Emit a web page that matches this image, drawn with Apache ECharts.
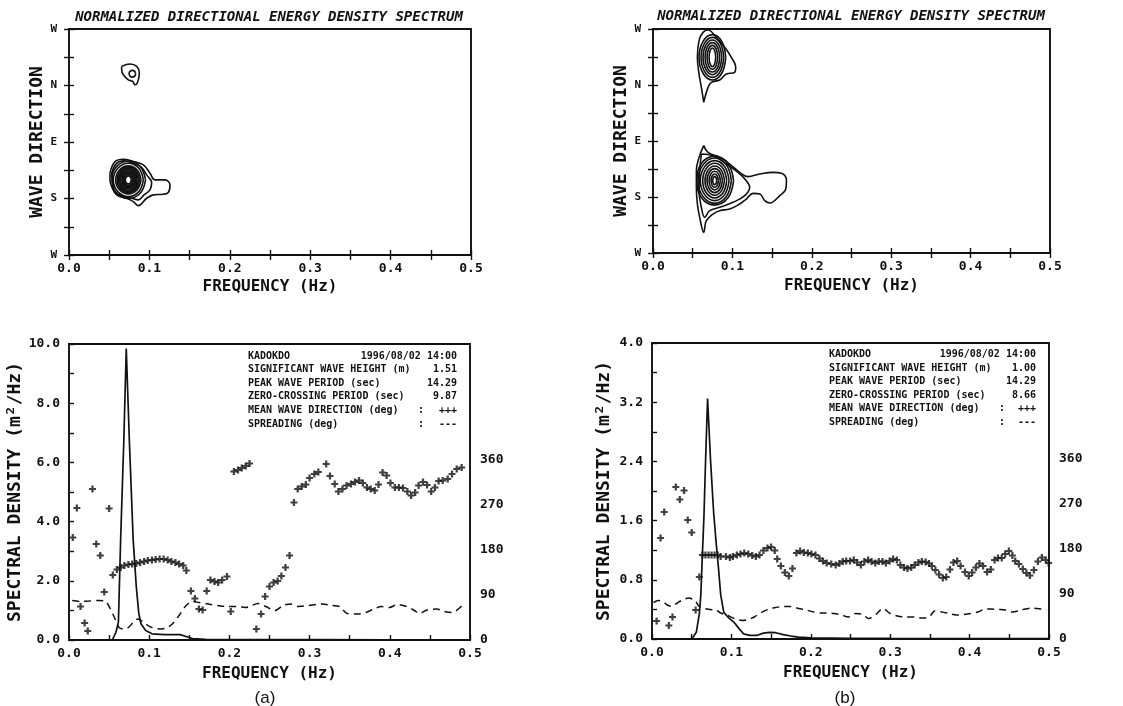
<!DOCTYPE html>
<html><head><meta charset="utf-8">
<script src="https://cdn.jsdelivr.net/npm/echarts@6/dist/echarts.min.js"></script>
<style>html,body{margin:0;padding:0;background:#fff}#c{width:1123px;height:706px}</style>
</head><body><div id="c"></div>
<script>
// ---------- data ----------
const dirLabels = ['W', 'S', 'E', 'N', 'W'];
const titleText = 'NORMALIZED DIRECTIONAL ENERGY DENSITY SPECTRUM';
const infoLabels = ['KADOKDO', 'SIGNIFICANT WAVE HEIGHT (m)', 'PEAK WAVE PERIOD (sec)', 'ZERO-CROSSING PERIOD (sec)', 'MEAN WAVE DIRECTION (deg)', 'SPREADING (deg)'];
const infoValuesA = ['1996/08/02 14:00', '1.51', '14.29', '9.87', '+++', '---'];
const infoValuesB = ['1996/08/02 14:00', '1.00', '14.29', '8.66', '+++', '---'];

// spectral density [Hz, m^2/Hz]
const spectrumA = [[0,0],[0.054,0],[0.0585,0.26],[0.0616,0.6],[0.0644,3.4],[0.0683,6.7],[0.0714,9.85],[0.0753,6.7],[0.08,3.4],[0.0839,1.8],[0.087,0.9],[0.0897,0.55],[0.0956,0.32],[0.1034,0.21],[0.119,0.18],[0.1385,0.18],[0.146,0.12],[0.154,0.05],[0.17,0.02],[0.2,0.01],[0.3,0.01],[0.4,0.005],[0.5,0.005]];
const spectrumB = [[0,0],[0.05,0],[0.0558,0.09],[0.0596,0.34],[0.0615,0.6],[0.0635,1.15],[0.0654,1.65],[0.0673,2.35],[0.07,3.25],[0.0738,2.4],[0.0777,1.7],[0.0808,1.3],[0.0838,0.95],[0.0865,0.6],[0.0904,0.36],[0.0962,0.29],[0.1038,0.22],[0.1096,0.14],[0.1154,0.07],[0.123,0.05],[0.1327,0.05],[0.1404,0.08],[0.148,0.09],[0.1558,0.085],[0.1654,0.06],[0.175,0.04],[0.1846,0.025],[0.2,0.015],[0.25,0.01],[0.3,0.008],[0.4,0.006],[0.5,0.005]];

// mean wave direction [Hz, deg]
const meanDirA = [[0.0047,205],[0.0098,264],[0.0144,67],[0.0195,34],[0.0234,18],[0.0293,302],[0.034,192],[0.039,169],[0.044,96],[0.05,263],[0.0546,130],[0.0597,141],
[0.0644,145],[0.069,149],[0.0741,151],[0.0788,152],[0.0839,153],[0.0886,155],[0.0936,157],[0.0983,159],[0.1034,160],[0.108,161],[0.113,162],[0.118,162],[0.123,160],[0.1276,157],[0.1327,155],[0.1373,152],[0.1424,149],[0.1463,139],
[0.152,98],[0.157,83],[0.162,62],[0.1666,60],[0.1717,98],[0.1763,120],[0.1814,117],[0.186,115],[0.191,120],[0.197,127],[0.2017,57],
[0.2056,337],[0.2107,340],[0.2154,344],[0.2204,348],[0.2251,353],
[0.2336,22],[0.2395,52],[0.2445,87],[0.25,107],[0.2551,115],[0.2602,118],[0.2648,128],[0.2699,145],[0.275,169],[0.2805,275],[0.2852,302],[0.2902,307],[0.2953,311],[0.3,324],[0.3059,332],[0.3109,336],[0.3207,352],[0.3254,328],[0.3313,312],[0.3359,297],[0.341,302],[0.3461,309],[0.3516,312],[0.3566,316],[0.3617,319],[0.3664,314],[0.3715,305],[0.3762,302],[0.3812,299],[0.3859,311],[0.391,335],[0.3961,329],[0.4008,314],[0.4063,305],[0.4113,305],[0.4164,304],[0.4219,297],[0.4266,289],[0.4316,295],[0.4359,309],[0.4414,316],[0.4465,310],[0.4516,297],[0.4563,305],[0.4609,318],[0.466,319],[0.4722,322],[0.4776,332],[0.4834,342],[0.4896,345]];
const meanDirB = [[0.0058,36],[0.0108,202],[0.0154,254],[0.0212,27],[0.0258,44],[0.03,304],[0.035,279],[0.0404,297],[0.045,238],[0.05,213],[0.055,58],[0.0596,124],
[0.0635,168],[0.0673,168],[0.0712,168],[0.075,168],[0.0788,168],[0.0827,168],[0.0865,165],[0.0931,165],[0.0981,163],[0.1019,165],[0.1069,168],[0.1115,170],[0.1162,172],[0.1212,170],[0.1262,167],[0.1308,165],[0.1354,168],[0.1404,177],[0.1454,182],[0.15,184],[0.1546,177],[0.1577,160],[0.1623,146],[0.1673,133],[0.1723,126],[0.1769,141],[0.1819,172],[0.1865,176],[0.1912,173],[0.1962,172],[0.2008,170],[0.2058,168],[0.2108,161],[0.2154,156],[0.22,152],[0.2257,150],
[0.2313,148],[0.236,151],[0.2403,155],[0.2446,156],[0.2494,156],[0.2541,158],[0.2584,153],[0.2631,148],[0.2675,155],[0.2722,158],[0.2765,155],[0.2812,152],[0.2856,155],[0.2903,155],[0.2946,152],[0.2993,156],[0.3037,160],[0.3084,158],[0.3127,148],[0.3174,143],[0.3218,141],[0.3265,143],[0.3308,148],[0.3355,153],[0.3399,155],[0.3446,154],[0.3489,151],[0.3525,146],[0.3569,138],[0.3616,129],[0.3663,122],[0.3706,124],[0.3753,139],[0.3797,153],[0.3844,156],[0.3887,146],[0.3942,134],[0.3989,126],[0.4032,133],[0.4079,143],[0.4123,151],[0.417,146],[0.422,134],[0.4267,139],[0.4314,158],[0.4358,162],[0.4405,162],[0.4448,170],[0.4495,176],[0.4539,167],[0.4575,156],
[0.462,150],[0.467,140],[0.4715,132],[0.476,127],[0.481,138],[0.486,155],[0.491,163],[0.496,158],[0.4995,152]];

// directional spreading [Hz, deg]
const spreadA = [[0.004,79],[0.015,77],[0.025,78],[0.037,79],[0.045,78],[0.0507,65],[0.0566,45],[0.0624,25],[0.068,22],[0.074,25],[0.08,35],[0.0858,42],[0.0897,39],[0.0956,32],[0.1034,25],[0.115,22],[0.123,25],[0.1307,35],[0.1385,52],[0.146,69],[0.154,77],[0.162,75],[0.1736,72],[0.185,69],[0.197,67],[0.2087,67],[0.22,65],[0.2356,73],[0.2453,67],[0.257,59],[0.2668,69],[0.2766,72],[0.2863,67],[0.298,69],[0.3156,72],[0.3273,69],[0.3371,67],[0.3469,53],[0.3586,52],[0.3703,55],[0.3801,62],[0.3898,67],[0.3996,65],[0.4094,71],[0.4211,67],[0.4308,59],[0.4367,53],[0.4465,60],[0.4582,62],[0.468,57],[0.478,55],[0.49,69]];
const spreadB = [[0.002,73],[0.0077,77],[0.0135,75],[0.0192,68],[0.025,65],[0.0308,71],[0.0385,78],[0.0462,82],[0.0538,77],[0.0596,65],[0.0654,61],[0.0731,59],[0.0808,58],[0.0865,52],[0.0942,48],[0.1038,41],[0.1135,37],[0.1212,39],[0.1288,44],[0.1365,52],[0.1462,59],[0.1558,63],[0.1654,65],[0.175,65],[0.1846,61],[0.1942,58],[0.2038,54],[0.2135,52],[0.2212,52],[0.2294,51],[0.2385,48],[0.2475,44],[0.2566,51],[0.2656,49],[0.2729,41],[0.282,49],[0.2909,61],[0.3,51],[0.309,46],[0.3199,44],[0.3308,44],[0.3398,42],[0.349,44],[0.3561,56],[0.3652,54],[0.3742,51],[0.3833,48],[0.3923,49],[0.4014,51],[0.4104,54],[0.4177,59],[0.4267,60],[0.4357,59],[0.4448,58],[0.4539,54],[0.465,58],[0.478,62],[0.49,60],[0.497,58]];

// contour rings [Hz, direction index (0=W,1=S,2=E,3=N,4=W)]
const contoursA = [
 [[0.0655,3.338],[0.0759,3.38],[0.0842,3.338],[0.0875,3.22],[0.085,3.043],[0.0821,3.013],[0.0792,3.072],[0.0738,3.1],[0.0676,3.19],[0.0655,3.28]],
 [[0.0829,3.208],[0.0817,3.249],[0.0788,3.267],[0.0759,3.249],[0.0747,3.208],[0.0759,3.167],[0.0788,3.149],[0.0817,3.167]],
 [[0.051,1.448],[0.0572,1.654],[0.0676,1.696],[0.08,1.654],[0.0925,1.595],[0.1007,1.448],[0.107,1.329],[0.1194,1.329],[0.1256,1.241],[0.1235,1.105],[0.1173,1.075],[0.1049,1.064],[0.0966,1.004],[0.0862,0.874],[0.08,0.945],[0.0717,1.004],[0.0593,1.064],[0.0531,1.211],[0.051,1.329]],
 [[0.0531,1.448],[0.0593,1.625],[0.0684,1.666],[0.08,1.625],[0.0904,1.548],[0.0966,1.418],[0.1028,1.282],[0.1007,1.152],[0.0933,1.064],[0.0862,0.975],[0.0779,1.004],[0.0655,1.046],[0.0572,1.123],[0.0543,1.27]],
 [[0.0952,1.329],[0.0889,1.56],[0.0738,1.66],[0.0587,1.56],[0.0535,1.329],[0.0587,1.098],[0.0738,1.0],[0.0889,1.098]],
 [[0.0925,1.329],[0.0869,1.536],[0.0738,1.624],[0.0607,1.536],[0.0551,1.329],[0.0607,1.122],[0.0738,1.034],[0.0869,1.122]],
 [[0.0896,1.329],[0.0848,1.503],[0.0738,1.577],[0.0628,1.503],[0.0581,1.329],[0.0628,1.155],[0.0738,1.081],[0.0848,1.155]],
 [[0.0878,1.329],[0.0836,1.488],[0.0738,1.556],[0.064,1.488],[0.0598,1.329],[0.064,1.17],[0.0738,1.102],[0.0836,1.17]],
 [[0.0862,1.329],[0.0825,1.474],[0.0738,1.536],[0.0651,1.474],[0.0614,1.329],[0.0651,1.184],[0.0738,1.122],[0.0825,1.184]],
 [[0.0848,1.329],[0.0815,1.458],[0.0738,1.513],[0.0661,1.458],[0.0628,1.329],[0.0661,1.2],[0.0738,1.145],[0.0815,1.2]],
 [[0.0833,1.329],[0.0805,1.441],[0.0738,1.489],[0.0671,1.441],[0.0643,1.329],[0.0671,1.217],[0.0738,1.17],[0.0805,1.217]],
 [[0.0818,1.329],[0.0794,1.427],[0.0738,1.468],[0.0682,1.427],[0.0658,1.329],[0.0682,1.231],[0.0738,1.19],[0.0794,1.231]],
 [[0.0804,1.329],[0.0784,1.412],[0.0738,1.447],[0.0692,1.412],[0.0672,1.329],[0.0692,1.246],[0.0738,1.211],[0.0784,1.246]],
 [[0.079,1.329],[0.0774,1.395],[0.0738,1.423],[0.0702,1.395],[0.0686,1.329],[0.0702,1.263],[0.0738,1.235],[0.0774,1.263]],
 [[0.0775,1.329],[0.0764,1.379],[0.0738,1.4],[0.0712,1.379],[0.0701,1.329],[0.0712,1.279],[0.0738,1.258],[0.0764,1.279]]
];
const contoursB = [
 [[0.0639,2.69],[0.0609,2.958],[0.058,3.196],[0.0559,3.494],[0.058,3.792],[0.063,3.94],[0.0693,3.982],[0.0798,3.851],[0.0903,3.673],[0.0987,3.494],[0.1042,3.315],[0.1029,3.226],[0.0924,3.196],[0.084,3.089],[0.0735,3.048],[0.0693,2.958]],
 [[0.0916,3.494],[0.0866,3.778],[0.0748,3.899],[0.063,3.778],[0.058,3.494],[0.063,3.21],[0.0748,3.089],[0.0866,3.21]],
 [[0.0891,3.494],[0.0848,3.744],[0.0748,3.851],[0.0648,3.744],[0.0605,3.494],[0.0648,3.244],[0.0748,3.137],[0.0848,3.244]],
 [[0.0866,3.494],[0.083,3.711],[0.0748,3.804],[0.0666,3.711],[0.063,3.494],[0.0666,3.277],[0.0748,3.184],[0.083,3.277]],
 [[0.084,3.494],[0.0813,3.677],[0.0748,3.756],[0.0683,3.677],[0.0656,3.494],[0.0683,3.311],[0.0748,3.232],[0.0813,3.311]],
 [[0.0815,3.494],[0.0795,3.644],[0.0748,3.708],[0.0701,3.644],[0.0681,3.494],[0.0701,3.344],[0.0748,3.28],[0.0795,3.344]],
 [[0.079,3.494],[0.0777,3.611],[0.0748,3.661],[0.0719,3.611],[0.0706,3.494],[0.0719,3.377],[0.0748,3.327],[0.0777,3.377]],
 [[0.0639,1.917],[0.0693,1.798],[0.084,1.708],[0.0966,1.589],[0.1092,1.44],[0.1197,1.363],[0.1345,1.411],[0.1513,1.44],[0.1618,1.423],[0.1681,1.292],[0.1672,1.143],[0.1597,1.024],[0.1471,0.893],[0.1408,0.935],[0.1345,1.054],[0.1261,1.065],[0.1176,0.964],[0.1092,0.875],[0.0966,0.786],[0.084,0.756],[0.0756,0.696],[0.0672,0.577],[0.0639,0.369],[0.0588,0.637],[0.0559,0.875],[0.0546,1.173],[0.0546,1.47],[0.058,1.708]],
 [[0.0609,1.768],[0.0756,1.738],[0.0924,1.589],[0.1071,1.44],[0.1176,1.292],[0.1218,1.173],[0.1155,1.024],[0.1008,0.905],[0.084,0.815],[0.0714,0.756],[0.0651,0.637],[0.0609,0.815],[0.058,1.113],[0.0588,1.47]],
 [[0.1015,1.292],[0.0945,1.6],[0.0777,1.73],[0.061,1.6],[0.0552,1.292],[0.061,0.985],[0.0777,0.855],[0.0945,0.985]],
 [[0.0987,1.292],[0.0924,1.576],[0.0777,1.697],[0.063,1.576],[0.0567,1.292],[0.063,1.008],[0.0777,0.887],[0.0924,1.008]],
 [[0.0958,1.292],[0.0903,1.542],[0.0777,1.649],[0.0651,1.542],[0.0596,1.292],[0.0651,1.042],[0.0777,0.935],[0.0903,1.042]],
 [[0.0928,1.292],[0.0883,1.509],[0.0777,1.602],[0.0671,1.509],[0.0626,1.292],[0.0671,1.075],[0.0777,0.983],[0.0883,1.075]],
 [[0.0899,1.292],[0.0862,1.475],[0.0777,1.554],[0.0692,1.475],[0.0655,1.292],[0.0692,1.109],[0.0777,1.03],[0.0862,1.109]],
 [[0.0874,1.292],[0.0845,1.442],[0.0777,1.506],[0.0709,1.442],[0.068,1.292],[0.0709,1.142],[0.0777,1.078],[0.0845,1.142]],
 [[0.0848,1.292],[0.0827,1.409],[0.0777,1.459],[0.0727,1.409],[0.0706,1.292],[0.0727,1.175],[0.0777,1.125],[0.0827,1.175]],
 [[0.0823,1.292],[0.0809,1.375],[0.0777,1.411],[0.0745,1.375],[0.0731,1.292],[0.0745,1.209],[0.0777,1.173],[0.0809,1.209]],
 [[0.0802,1.292],[0.0795,1.342],[0.0777,1.363],[0.0759,1.342],[0.0752,1.292],[0.0759,1.242],[0.0777,1.221],[0.0795,1.242]]
];

// ---------- styling ----------
const INK = '#111';
const MONO = 'DejaVu Sans Mono';
const PLUS = 'path://M3.4,0H6.6V3.4H10V6.6H6.6V10H3.4V6.6H0V3.4H3.4Z';
const grids = [
  {left: 69, top: 29, width: 402, height: 226},
  {left: 653, top: 29, width: 397, height: 224},
  {left: 69, top: 344, width: 401, height: 296},
  {left: 652, top: 343, width: 397, height: 296}
].map(g => Object.assign({show: true, borderColor: INK, borderWidth: 1.9, backgroundColor: 'transparent'}, g));

const lblStyle = {fontFamily: MONO, fontSize: 13, fontWeight: 'bold', color: INK};
const nameStyle = (fs) => ({fontFamily: MONO, fontSize: fs, fontWeight: 'bold', color: INK});
const tick = {show: true, inside: true, length: 5, lineStyle: {color: INK, width: 1.4}};
const minor = {show: true, splitNumber: 2, length: 5, lineStyle: {color: INK, width: 1.4}};

function freqAxis(gi, pos, withLabels, gap) {
  return {
    type: 'value', gridIndex: gi, position: pos, min: 0, max: 0.5, interval: 0.1,
    axisLine: {show: false}, axisTick: tick, minorTick: minor,
    splitLine: {show: false}, minorSplitLine: {show: false},
    axisLabel: {show: withLabels, margin: 7, formatter: v => v.toFixed(1), ...lblStyle},
    name: withLabels ? 'FREQUENCY (Hz)' : '', nameLocation: 'middle', nameGap: gap,
    nameTextStyle: nameStyle(16)
  };
}
function dirAxis(gi, pos, withLabels, gap) {
  return {
    type: 'value', gridIndex: gi, position: pos, min: 0, max: 4, interval: 1,
    axisLine: {show: false}, axisTick: tick, minorTick: minor,
    splitLine: {show: false}, minorSplitLine: {show: false},
    axisLabel: {show: withLabels, margin: 12, formatter: v => dirLabels[v] || '', ...lblStyle, fontSize: 11},
    name: withLabels ? 'WAVE DIRECTION' : '', nameLocation: 'middle', nameGap: gap, nameRotate: 90,
    nameTextStyle: nameStyle(18)
  };
}
function densAxis(gi, max, interval, gap) {
  return {
    type: 'value', gridIndex: gi, position: 'left', min: 0, max: max, interval: interval,
    axisLine: {show: false}, axisTick: tick, minorTick: minor,
    splitLine: {show: false}, minorSplitLine: {show: false},
    axisLabel: {margin: 9, formatter: v => v.toFixed(1), ...lblStyle},
    name: 'SPECTRAL DENSITY (m²/Hz)', nameLocation: 'middle', nameGap: gap, nameRotate: 90,
    nameTextStyle: nameStyle(18)
  };
}
function degAxis(gi) {
  return {
    type: 'value', gridIndex: gi, position: 'right', min: 0, max: 592, interval: 90,
    axisLine: {show: false}, axisTick: {show: false},
    splitLine: {show: false},
    axisLabel: {margin: 10, formatter: v => (v <= 360 ? String(v) : ''), ...lblStyle}
  };
}

const series = [];
function addContours(rings, xi, yi) {
  rings.forEach(r => series.push({
    type: 'line', xAxisIndex: xi, yAxisIndex: yi, data: r.concat([r[0]]),
    symbol: 'none', smooth: 0.4, silent: true,
    lineStyle: {color: INK, width: 1.6}
  }));
}
addContours(contoursA, 0, 0);
addContours(contoursB, 2, 2);

function addSpectrum(spec, dir, spread, xi, yiL, yiR) {
  series.push({type: 'line', xAxisIndex: xi, yAxisIndex: yiL, data: spec, symbol: 'none',
    lineStyle: {color: INK, width: 1.7}, z: 3});
  series.push({type: 'line', xAxisIndex: xi, yAxisIndex: yiR, data: spread, symbol: 'none', smooth: 0.3,
    lineStyle: {color: INK, width: 1.5, type: [7, 5]}, z: 2});
  series.push({type: 'scatter', xAxisIndex: xi, yAxisIndex: yiR, data: dir, symbol: PLUS, symbolSize: 7,
    itemStyle: {color: INK}, z: 4});
}
addSpectrum(spectrumA, meanDirA, spreadA, 4, 4, 5);
addSpectrum(spectrumB, meanDirB, spreadB, 5, 6, 7);

// graphic texts: titles, info blocks, panel tags
const graphics = [];
function txt(text, x, y, font, align) {
  graphics.push({type: 'text', silent: true, style: {text: text, x: x, y: y, font: font, fill: INK, textAlign: align || 'left', textVerticalAlign: 'middle'}});
}
const titleFont = 'italic bold 14px "DejaVu Sans Mono"';
txt(titleText, 269, 17, titleFont, 'center');
txt(titleText, 851, 16, titleFont, 'center');
function infoBlock(values, xl, xr, xc, y0) {
  const infoFont = 'bold 10px "DejaVu Sans Mono"';
  infoLabels.forEach((lab, i) => {
    const y = y0 + i * 13.6;
    txt(lab, xl, y, infoFont, 'left');
    txt(values[i], xr, y, infoFont, 'right');
    if (i >= 4) txt(':', xc, y, infoFont, 'center');
  });
}
infoBlock(infoValuesA, 248, 457, 421, 356);
infoBlock(infoValuesB, 829, 1036, 1002, 354.5);
txt('(a)', 265, 698, '17px "Liberation Sans"', 'center');
txt('(b)', 845, 698, '17px "Liberation Sans"', 'center');

const option = {
  animation: false,
  backgroundColor: '#fff',
  grid: grids,
  xAxis: [
    freqAxis(0, 'bottom', true, 24), freqAxis(0, 'top', false, 0),
    freqAxis(1, 'bottom', true, 25), freqAxis(1, 'top', false, 0),
    freqAxis(2, 'bottom', true, 26), freqAxis(3, 'bottom', true, 26)
  ],
  yAxis: [
    dirAxis(0, 'left', true, 18), dirAxis(0, 'right', false, 0),
    dirAxis(1, 'left', true, 19), dirAxis(1, 'right', false, 0),
    densAxis(2, 10, 2, 39), degAxis(2),
    densAxis(3, 4, 0.8, 39), degAxis(3)
  ],
  series: series,
  graphic: graphics
};
const chart = echarts.init(document.getElementById('c'), null, {renderer: 'canvas'});
chart.setOption(option);
</script></body></html>
